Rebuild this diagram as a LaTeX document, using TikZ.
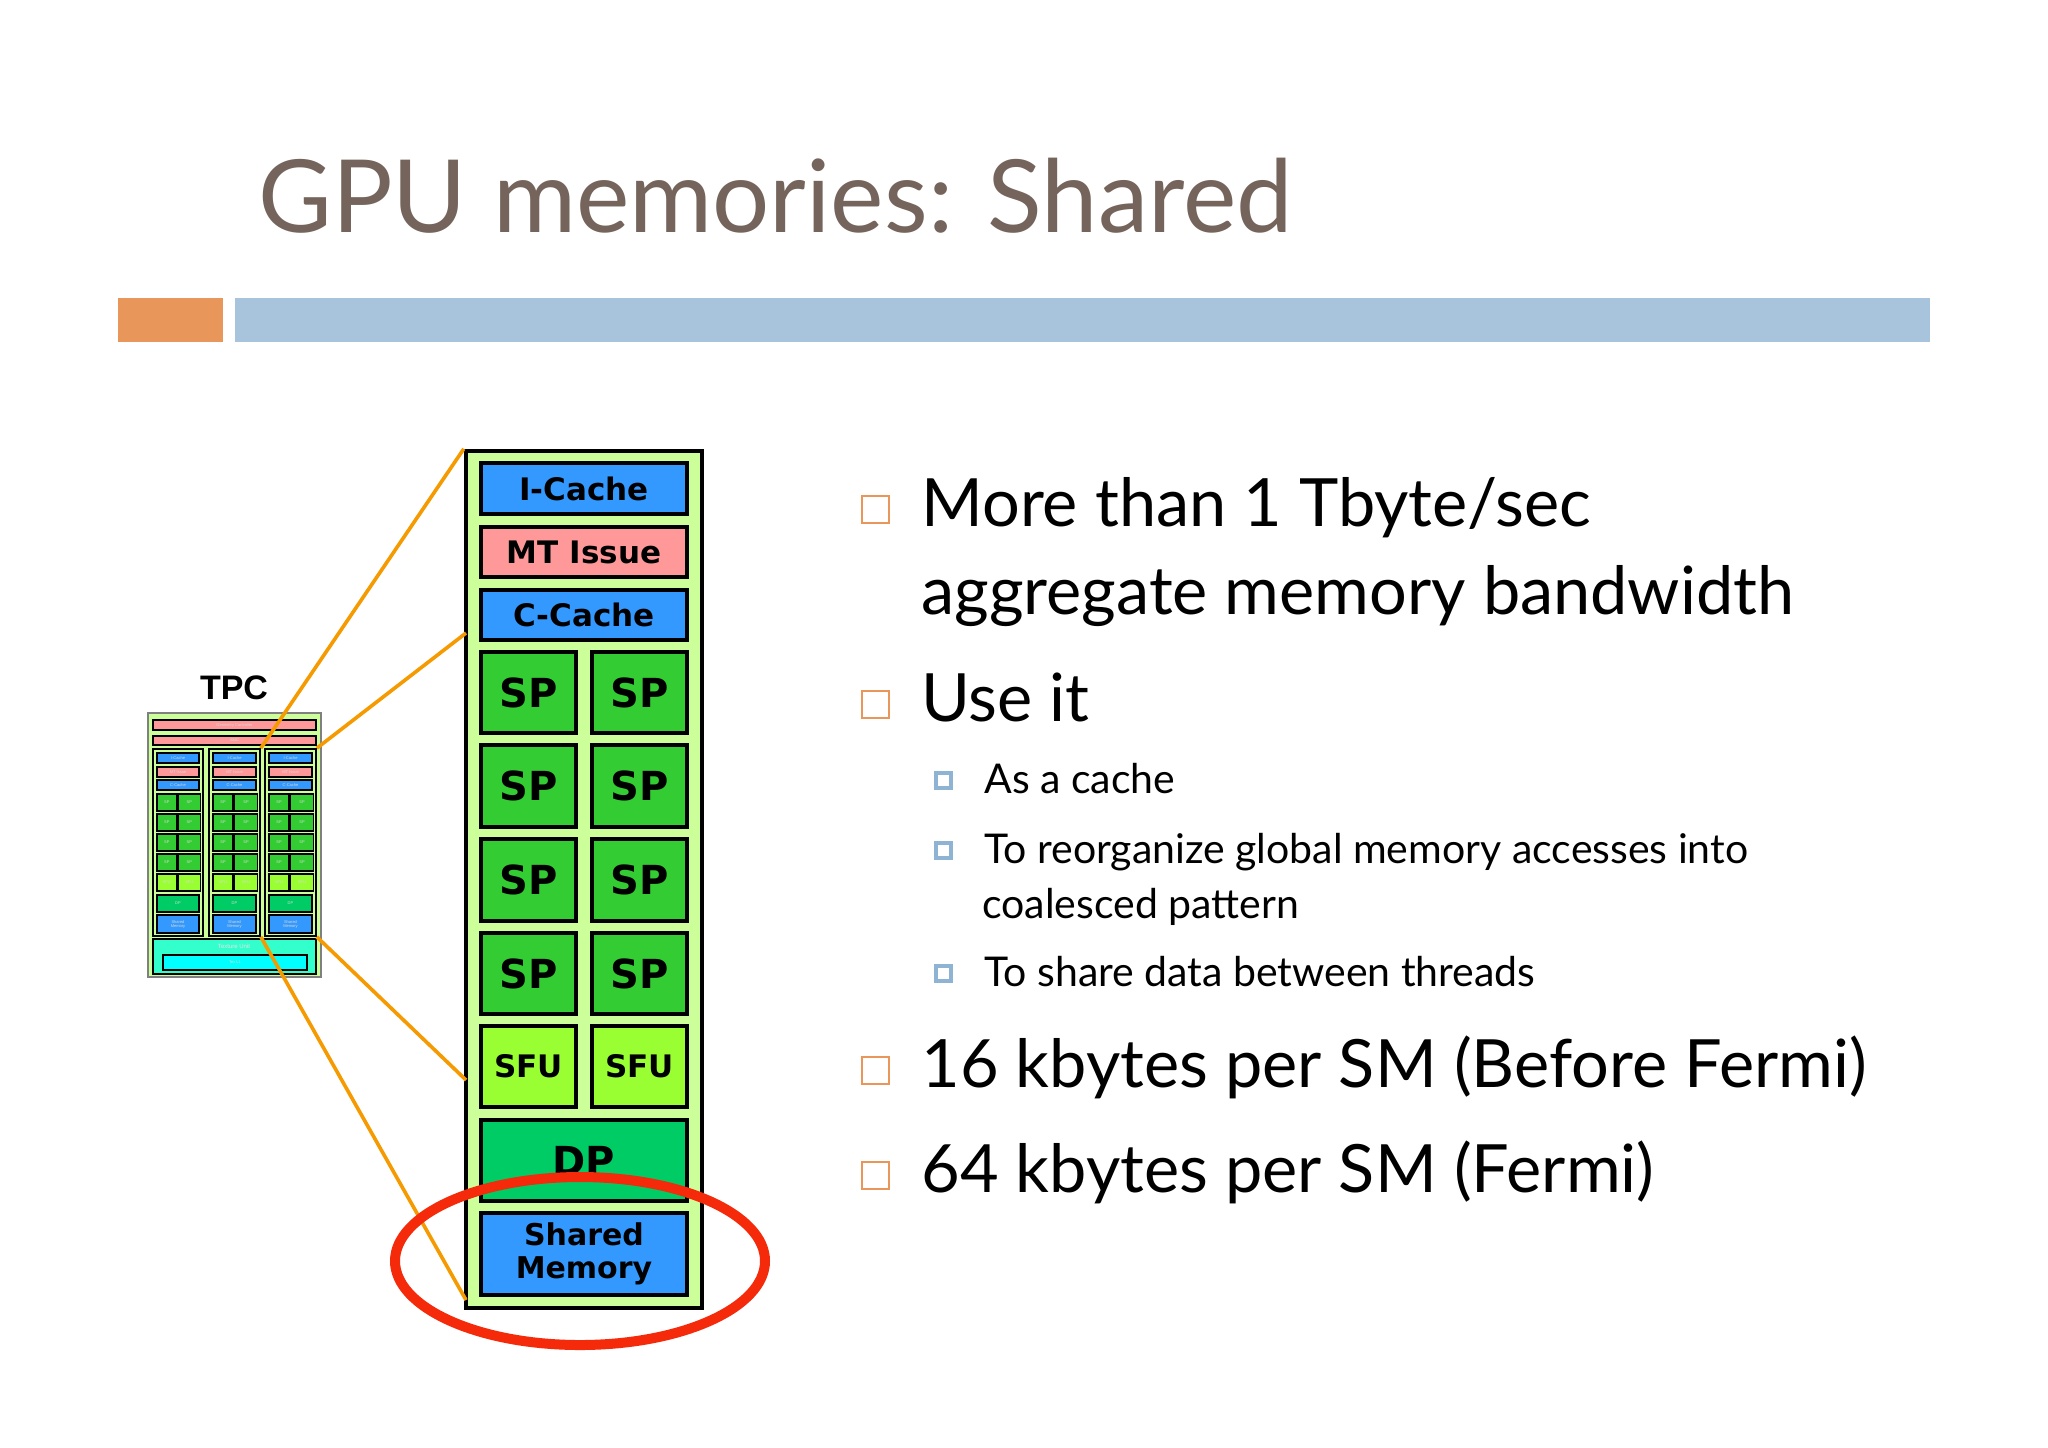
\documentclass[tikz,border=0pt]{standalone}
\usepackage{fontspec}
\setmainfont{Lato}
\newfontfamily\arialf{DejaVu Sans}
\newfontfamily\tpcf{Liberation Sans}
\usetikzlibrary{calc}
\definecolor{titlec}{HTML}{75645B}
\definecolor{barorange}{HTML}{E8965A}
\definecolor{barblue}{HTML}{A7C4DC}
\definecolor{smbg}{HTML}{CCFF99}
\definecolor{cblue}{HTML}{3399FF}
\definecolor{cpink}{HTML}{FF9999}
\definecolor{spg}{HTML}{33CC33}
\definecolor{sfug}{HTML}{99FF33}
\definecolor{dpg}{HTML}{00CC66}
\definecolor{texc}{HTML}{33FFCC}
\definecolor{texl}{HTML}{00FFFF}
\definecolor{linkc}{HTML}{F59A00}
\definecolor{ringc}{HTML}{F52A0A}
\definecolor{bulo}{HTML}{E8965A}
\definecolor{bulb}{HTML}{8FB3D3}
\tikzset{
  blk/.style={draw=black, line width=1.6pt, inner sep=0pt, font=\arialf\bfseries, text=black},
  tblk/.style={draw=black, line width=0.6pt, inner sep=0pt, font=\tpcf\fontsize{2}{2}\selectfont, text=white!70!gray},
  link/.style={draw=linkc, line width=1.8pt},
  bigtxt/.style={anchor=base west, font=\fontsize{33.3}{36}\selectfont, inner sep=0pt},
  subtxt/.style={anchor=base west, font=\fontsize{20.5}{22}\selectfont, inner sep=0pt},
  bigbul/.style={draw=bulo, line width=1.3pt},
  subbul/.style={draw=bulb, line width=2.2pt},
}
\newcommand\mkblk[7]{\node[#6, minimum width={(#4-#2)*0.5pt}, minimum height={(#5-#3)*0.5pt}] (#1) at ({(#2+#4)/2},{(#3+#5)/2}) {#7};}
\begin{document}
\begin{tikzpicture}[x=0.5pt,y=-0.5pt]
\useasboundingbox (0,0) rectangle (2048,1447);
\fill[white] (0,0) rectangle (2048,1447);
\node[anchor=base west, inner sep=0pt, text=titlec, font=\fontsize{50.5}{56}\selectfont] (title) at (258,232) {GPU memories: Shared};
\fill[barorange] (118,298) rectangle (223,342);
\fill[barblue] (235,298) rectangle (1930,342);

% ---- TPC ----
\node[font=\tpcf\bfseries\fontsize{17}{18}\selectfont, anchor=base, inner sep=0pt] (tpclabel) at (234,699) {TPC};
\mkblk{tpc}{148}{713}{321}{977}{draw=gray, line width=0.8pt, fill=smbg}{}
\mkblk{geo}{153}{720}{316}{730}{tblk, fill=cpink}{Geometry Controller}
\mkblk{smc}{153}{736}{316}{745}{tblk, fill=cpink}{SMC}
\foreach \c/\xa/\xb in {1/153/203, 2/209/260, 3/265/316}{
  \mkblk{col\c}{\xa}{749}{\xb}{936}{draw=black, line width=0.8pt, fill=smbg}{}
  \pgfmathsetmacro\ia{\xa+4}\pgfmathsetmacro\ib{\xb-4}\pgfmathsetmacro\im{(\xa+\xb)/2}
  \mkblk{ic\c}{\ia}{753}{\ib}{763}{tblk, fill=cblue}{I-Cache}
  \mkblk{mt\c}{\ia}{767}{\ib}{777}{tblk, fill=cpink}{MT Issue}
  \mkblk{cc\c}{\ia}{780}{\ib}{790}{tblk, fill=cblue}{C-Cache}
  \foreach \r/\ya/\yb in {1/794/811, 2/814/831, 3/834/851, 4/854/871}{
    \mkblk{spa\c\r}{\ia}{\ya}{\im-1.5}{\yb}{tblk, fill=spg}{SP}
    \mkblk{spb\c\r}{\im+1.5}{\ya}{\ib}{\yb}{tblk, fill=spg}{SP}
  }
  \mkblk{sfa\c}{\ia}{874}{\im-1.5}{891}{tblk, fill=sfug}{SFU}
  \mkblk{sfb\c}{\im+1.5}{874}{\ib}{891}{tblk, fill=sfug}{SFU}
  \mkblk{dp\c}{\ia}{895}{\ib}{912}{tblk, fill=dpg}{DP}
  \mkblk{sh\c}{\ia}{915}{\ib}{933}{tblk, fill=cblue, align=center}{Shared\\Memory}
}
\mkblk{tex}{153}{939}{316}{974}{draw=black, line width=0.8pt, fill=texc}{}
\node[font=\tpcf\fontsize{3}{3}\selectfont, text=white!80!gray, inner sep=0pt] (texlab) at (234,946) {Texture Unit};
\mkblk{texl1}{163}{955}{307}{970}{tblk, fill=texl}{Tex L1}

% ---- big SM ----
\mkblk{sm}{466}{451}{702}{1308}{draw=black, line width=2.2pt, fill=smbg}{}
\mkblk{icache}{481}{463}{687}{514}{blk, fill=cblue, font=\arialf\bfseries\fontsize{15.5}{16}\selectfont}{I-Cache}
\mkblk{mtissue}{481}{527}{687}{577}{blk, fill=cpink, font=\arialf\bfseries\fontsize{15.5}{16}\selectfont}{MT Issue}
\mkblk{ccache}{481}{590}{687}{640}{blk, fill=cblue, font=\arialf\bfseries\fontsize{15.5}{16}\selectfont}{C-Cache}
\foreach \r/\ya/\yb in {1/652/733, 2/745/827, 3/839/921, 4/933/1014}{
  \mkblk{spl\r}{481}{\ya}{576}{\yb}{blk, fill=spg, font=\arialf\bfseries\fontsize{20}{20}\selectfont}{SP}
  \mkblk{spr\r}{592}{\ya}{687}{\yb}{blk, fill=spg, font=\arialf\bfseries\fontsize{20}{20}\selectfont}{SP}
}
\mkblk{sful}{481}{1026}{576}{1107}{blk, fill=sfug, font=\arialf\bfseries\fontsize{15.5}{16}\selectfont}{SFU}
\mkblk{sfur}{592}{1026}{687}{1107}{blk, fill=sfug, font=\arialf\bfseries\fontsize{15.5}{16}\selectfont}{SFU}
\mkblk{dpbig}{481}{1120}{687}{1201}{blk, fill=dpg, font=\arialf\bfseries\fontsize{20}{20}\selectfont}{DP}
\mkblk{shmem}{481}{1213}{687}{1295}{blk, fill=cblue, align=center, font=\arialf\bfseries\fontsize{15}{16.5}\selectfont}{Shared\\Memory}

\coordinate (smA) at (sm.north west);
\coordinate (smB) at (466,633);
\coordinate (smC) at (466,1080);
\coordinate (smD) at (466,1300);
\draw[link] (col2.north east) -- (smA);
\draw[link] (col3.north east) -- (smB);
\draw[link] (col3.south east) -- (smC);
\draw[link] (col2.south east) -- (smD);

\draw[ringc, line width=5pt] (580,1261) ellipse [x radius=185, y radius=84];

\foreach \n/\y in {b1/526, b2/721, b3/1087, b4/1192}{
  \draw[bigbul] (862,{\y-30}) rectangle (889,{\y-3});
}
\foreach \n/\y in {s1/793, s2/863, s3/986}{
  \draw[subbul] (936,{\y-20}) rectangle (951,{\y-5});
}
\node[bigtxt] (t1) at (921,526) {More than 1 Tbyte/sec};
\node[bigtxt] (t1b) at (921,614) {aggregate memory bandwidth};
\node[bigtxt] (t2) at (921,721) {Use it};
\node[subtxt] (t21) at (984,793) {As a cache};
\node[subtxt] (t22) at (984,863) {To reorganize global memory accesses into};
\node[subtxt] (t22b) at (982,918) {coalesced pattern};
\node[subtxt] (t23) at (984,986) {To share data between threads};
\node[bigtxt] (t3) at (921,1087) {16 kbytes per SM (Before Fermi)};
\node[bigtxt] (t4) at (921,1192) {64 kbytes per SM (Fermi)};
\end{tikzpicture}
\end{document}
